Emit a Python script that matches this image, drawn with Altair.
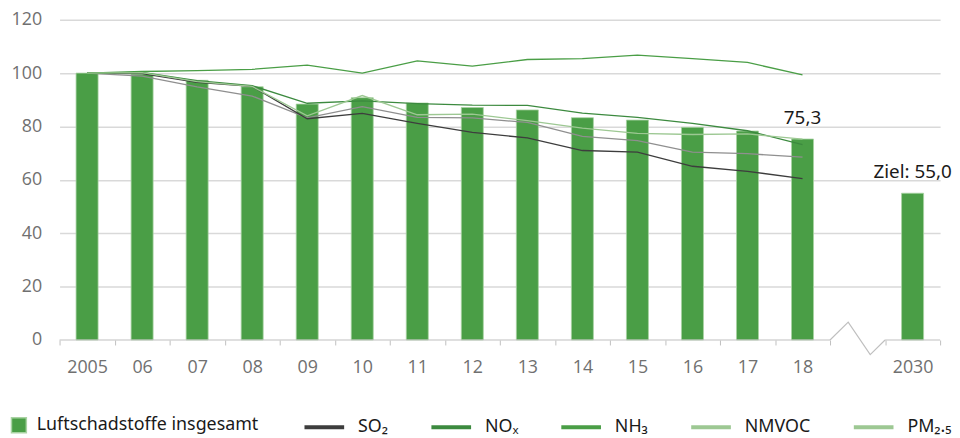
import altair as alt
import pandas as pd

categories = ["2005", "06", "07", "08", "09", "10", "11", "12", "13", "14",
              "15", "16", "17", "18", " ", "2030"]
bar_cats = ["2005", "06", "07", "08", "09", "10", "11", "12", "13", "14",
            "15", "16", "17", "18", "2030"]
total = [100.0, 99.6, 97.3, 94.9, 88.4, 90.8, 88.8, 87.1, 86.2, 83.3,
         82.4, 79.7, 78.3, 75.3, 55.0]
line_cats = categories[:14]
so2 = [100.0, 99.8, 96.5, 95.0, 82.9, 84.9, 81.2, 77.8, 75.7, 71.0, 70.4, 65.1, 63.2, 60.5]
nox = [100.0, 100.3, 97.2, 95.3, 88.7, 89.6, 88.6, 88.0, 87.9, 85.0, 83.4, 81.2, 78.4, 73.2]
nh3 = [100.0, 100.6, 100.9, 101.4, 103.0, 100.0, 104.6, 102.6, 105.1, 105.4, 106.7, 105.4, 104.0, 99.3]
nmvoc = [100.0, 100.2, 96.8, 95.0, 84.0, 91.6, 84.4, 84.6, 82.2, 79.4, 77.4, 77.0, 77.2, 75.3]
pm25 = [100.0, 98.9, 94.8, 91.4, 83.2, 87.4, 83.4, 83.2, 81.5, 76.3, 74.7, 70.4, 69.8, 68.5]

series_names = ["SO₂", "NOₓ", "NH₃", "NMVOC", "PM₂.₅"]
series_colors = ["#3d3d3d", "#3c8a3f", "#4a9e46", "#9dc893", "#9dc893"]
bar_name = "Luftschadstoffe insgesamt"

ann_cats = ["18", "2030"]
ann_vals = [75.3, 55.0]
ann_text = ["75,3", "Ziel: 55,0"]

# axis-break decoration (in category-index units)
brk_x = [14.0, 14.33, 14.73, 15.0]
brk_y = [0.0, 6.7, -5.5, 0.0]
base_x0 = [0.0, 15.0]
base_x1 = [14.0, 16.0]

bars_df = pd.DataFrame({"cat": bar_cats, "v": total, "s": bar_name})
rows = []
for name, vals in zip(series_names, [so2, nox, nh3, nmvoc, pm25]):
    for i, (c, v) in enumerate(zip(line_cats, vals)):
        rows.append({"cat": c, "v": v, "s": name, "o": i})
lines_df = pd.DataFrame(rows)
ann_df = pd.DataFrame({"cat": ann_cats, "v": ann_vals, "t": ann_text})
brk_df = pd.DataFrame({"bx": brk_x, "v": brk_y, "o": range(4)})
base_df = pd.DataFrame({"bx0": base_x0, "bx1": base_x1, "v": [0, 0]})

FONT_AX = "Open Sans"
FONT_TX = "Noto Sans"

x_enc = alt.X("cat:N", sort=categories,
              scale=alt.Scale(domain=categories, paddingInner=0, paddingOuter=0),
              axis=alt.Axis(title=None, labelAngle=0, domain=False,
                            tickBand="extent", tickColor="#bfbfbf", tickSize=5,
                            tickWidth=1, labelFont=FONT_AX, labelFontSize=18,
                            labelColor="#707070", labelPadding=14, grid=False))
y_enc = alt.Y("v:Q", scale=alt.Scale(domain=[0, 120], nice=False),
              axis=alt.Axis(title=None, values=[0, 20, 40, 60, 80, 100, 120],
                            domain=False, ticks=False, labelFont=FONT_AX,
                            labelFontSize=18, labelColor="#707070",
                            labelPadding=18, gridColor="#d9d9d9", gridWidth=1.5,
                            gridOpacity={"condition": {"test": "datum.value === 0", "value": 0}, "value": 1}))

bars = alt.Chart(bars_df).mark_bar(width=alt.RelativeBandSize(0.4), stroke="#a9d3a3",
                                   strokeWidth=0.8).encode(
    x=x_enc, y=y_enc,
    fill=alt.Fill("s:N", scale=alt.Scale(domain=[bar_name], range=["#4a9e46"]),
                  legend=alt.Legend(title=None, orient="none", legendX=-50, legendY=400,
                                    symbolType="square", symbolSize=225,
                                    labelFont=FONT_TX, labelFontSize=18, labelLimit=0,
                                    labelColor="#1a1a1a", labelOffset=9))
)

main_lines = alt.Chart(lines_df[lines_df.s != "PM₂.₅"]).mark_line(strokeWidth=1.3).encode(
    x=x_enc, y=y_enc, order="o:Q",
    stroke=alt.Stroke("s:N", scale=alt.Scale(domain=series_names, range=series_colors),
                      legend=alt.Legend(title=None, orient="none", direction="horizontal",
                                        legendX=245, legendY=389,
                                        symbolType="stroke", symbolSize=1600,
                                        symbolStrokeWidth=4, columnPadding=35,
                                        labelFont=FONT_TX, labelFontSize=18, labelLimit=0,
                                        labelColor="#1a1a1a", labelOffset=12))
)

pm_line = alt.Chart(lines_df[lines_df.s == "PM₂.₅"]).mark_line(strokeWidth=1.3,
                                                               color="#8f8f8f").encode(
    x=x_enc, y=y_enc, order="o:Q")

ann = alt.Chart(ann_df).mark_text(dy=-15, baseline="alphabetic", font=FONT_TX,
                                  fontSize=19, color="#1a1a1a").encode(
    x=x_enc, y=y_enc, text="t:N")

qx = alt.Scale(domain=[0, 16], nice=False, zero=False)
base = alt.Chart(base_df).mark_rule(color="#bfbfbf", strokeWidth=1.2).encode(
    x=alt.X("bx0:Q", scale=qx, axis=None), x2="bx1:Q", y=y_enc)
brk = alt.Chart(brk_df).mark_line(color="#bfbfbf", strokeWidth=1.2).encode(
    x=alt.X("bx:Q", scale=qx, axis=None), y=y_enc, order="o:Q")

main = alt.layer(bars, pm_line, main_lines, ann)
deco = alt.layer(base, brk)

chart = alt.layer(main, deco).resolve_scale(x="independent").properties(
    width=888, height=323, autosize="none",
    padding={"left": 52, "top": 10, "right": 12, "bottom": 97}
).configure_view(stroke=None)

chart.save("out.html", embed_options={"renderer": "svg", "actions": False})
